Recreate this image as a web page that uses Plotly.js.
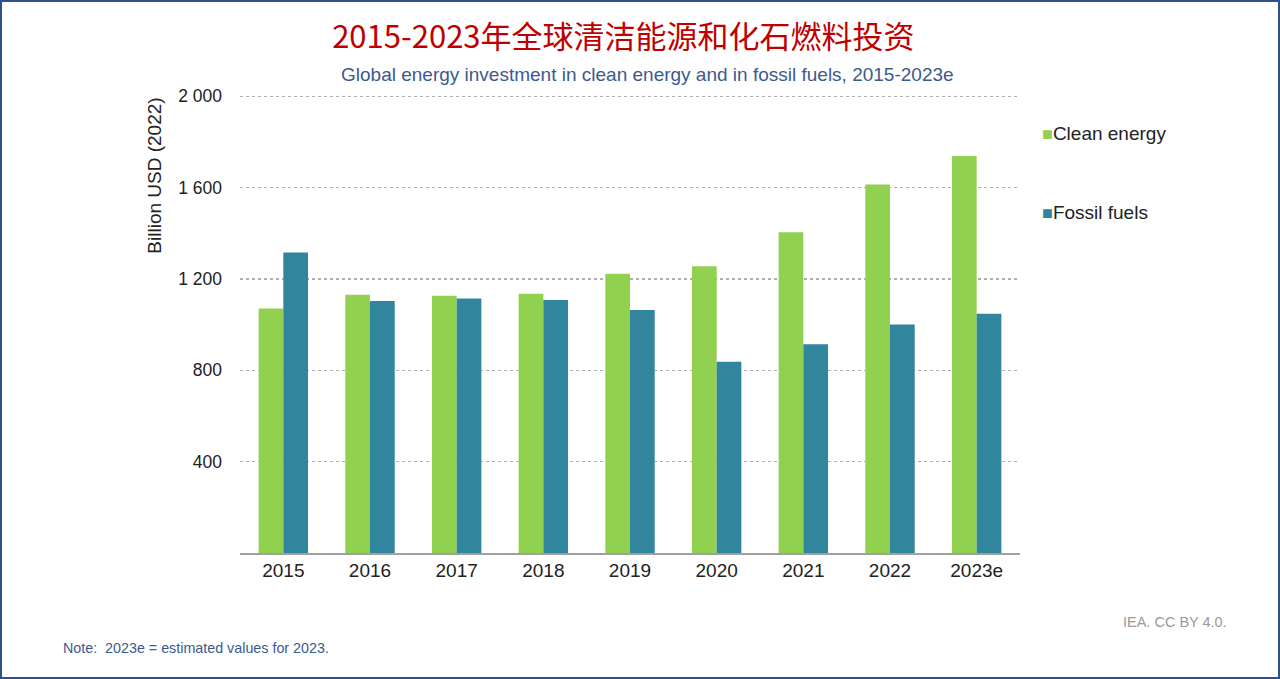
<!DOCTYPE html>
<html>
<head>
<meta charset="utf-8">
<script src="https://cdn.plot.ly/plotly-3.0.1.min.js"></script>
<style>
  html, body { margin: 0; padding: 0; background: #fff; }
  #wrap { position: relative; width: 1280px; height: 679px; }
  #chart { position: absolute; left: 0; top: 0; width: 1280px; height: 679px; }
  #frame { position: absolute; left: 0; top: 0; width: 1280px; height: 679px; box-sizing: border-box; border: 2px solid #2F4F8F; pointer-events: none; }
</style>
</head>
<body>
<div id="wrap">
  <div id="chart"></div>
  <div id="frame"></div>
</div>
<script>
const years = ["2015", "2016", "2017", "2018", "2019", "2020", "2021", "2022", "2023e"];
const cleanEnergy = [1071, 1131, 1127, 1135, 1223, 1256, 1405, 1614, 1738];
const fossilFuels = [1316, 1103, 1114, 1108, 1064, 838, 914, 1001, 1048];
const yTickVals = [400, 800, 1200, 1600, 2000];
const yTickText = ["400", "800", "1 200", "1 600", "2 000"];
const seriesNames = ["Clean energy", "Fossil fuels"];
const seriesColors = ["#92D050", "#31859C"];

const FONT = "Liberation Sans, Arial, sans-serif";

const traces = [
  {
    type: "bar", name: seriesNames[0], x: years, y: cleanEnergy,
    marker: { color: seriesColors[0] }
  },
  {
    type: "bar", name: seriesNames[1], x: years, y: fossilFuels,
    marker: { color: seriesColors[1] }
  }
];

const legendAnnotations = seriesNames.map((name, i) => ({
  text: '<span style="color:' + seriesColors[i] + ';font-size:18px">■</span>' + name,
  xref: "paper", yref: "paper", x: 1.026, y: i === 0 ? 0.914 : 0.742,
  xanchor: "left", yanchor: "middle", showarrow: false,
  font: { family: FONT, size: 19, color: "#222222" }
}));

const layout = {
  width: 1280, height: 679,
  paper_bgcolor: "#ffffff", plot_bgcolor: "#ffffff",
  margin: { l: 240, r: 260, t: 94, b: 126 },
  barmode: "group", bargap: 0.43, bargroupgap: 0,
  font: { family: FONT, color: "#222222" },
  showlegend: false,
  title: {
    text: "2015-2023年全球清洁能源和化石燃料投资",
    font: { family: "Noto Sans CJK SC, sans-serif", size: 31, color: "#C00000" },
    x: 0.487, xanchor: "center", xref: "container",
    y: 0.945, yanchor: "middle", yref: "container"
  },
  xaxis: {
    type: "category",
    showgrid: false, showline: true, linecolor: "#A0A0A0", linewidth: 1.5,
    ticks: "", tickfont: { family: FONT, size: 19, color: "#222222" },
    ticklabelstandoff: 0
  },
  yaxis: {
    range: [0, 2010], tickvals: yTickVals, ticktext: yTickText,
    showgrid: true, gridcolor: "#B0B0B0", gridwidth: 1.5, griddash: "dot",
    zeroline: false, showline: false, ticks: "",
    tickfont: { family: FONT, size: 17.5, color: "#222222" },
    ticklabelstandoff: 17
  },
  annotations: [
    {
      text: "Global energy investment in clean energy and in fossil fuels, 2015-2023e",
      xref: "paper", yref: "paper", x: 0.523, y: 1.043,
      xanchor: "center", yanchor: "middle", showarrow: false,
      font: { family: FONT, size: 19, color: "#3B5A8E" }
    },
    {
      text: "Billion USD (2022)",
      xref: "paper", yref: "paper", x: -0.109, y: 0.822,
      xanchor: "center", yanchor: "middle", showarrow: false, textangle: -90,
      font: { family: FONT, size: 19, color: "#222222" }
    },
    {
      text: "Note:  2023e = estimated values for 2023.",
      xref: "paper", yref: "paper", x: -0.229, y: -0.207,
      xanchor: "left", yanchor: "middle", showarrow: false,
      font: { family: FONT, size: 14.3, color: "#3B5A8E" }
    },
    {
      text: "IEA. CC BY 4.0.",
      xref: "paper", yref: "paper", x: 1.199, y: -0.151,
      xanchor: "center", yanchor: "middle", showarrow: false,
      font: { family: FONT, size: 14.5, color: "#9A9A9A" }
    }
  ].concat(legendAnnotations)
};

Plotly.newPlot("chart", traces, layout, { displayModeBar: false, staticPlot: true });
</script>
</body>
</html>
